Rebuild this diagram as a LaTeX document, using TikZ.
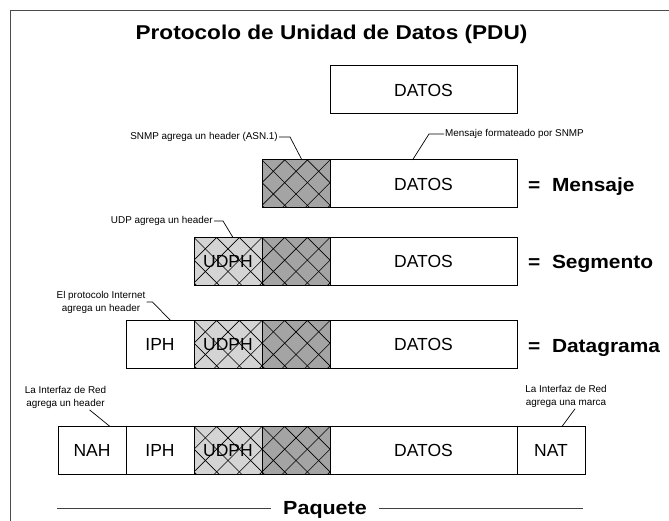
\documentclass[tikz,border=0pt]{standalone}
\usepackage{fontspec}
\setmainfont{Liberation Sans}
\newfontfamily\titlefont[FakeStretch=1.13]{Liberation Sans Bold}
\newfontfamily\eqfont[FakeStretch=1.1]{Liberation Sans Bold}
\usetikzlibrary{positioning}
\definecolor{hdrdark}{HTML}{A4A4A4}
\definecolor{hdrlight}{HTML}{D4D4D4}
\tikzset{
 b/.style
  = {rectangle, draw, line width=1pt, minimum width=68pt, minimum height=48pt,
     inner sep=0pt, outer sep=0pt, font=\fontsize{17.5}{20}\selectfont},
 bw/.style
  = {b, minimum width=187pt},
 h/.style
  = {b, fill=hdrdark},
 hh/.style
  = {b, fill=hdrlight},
 n/.style
  = {inner sep=1pt, align=center, font=\fontsize{9.9}{13}\selectfont},
 eq/.style
  = {anchor=west, inner sep=0pt, text height=13pt, text depth=0pt,
     font=\eqfont\fontsize{19}{22}\selectfont},
 l/.style
  = {draw, line width=0.7pt},
 pl/.style
  = {draw, line width=1pt, black!75},
}
\newcommand{\hatch}[1]{%
  \begin{scope}
    \clip (#1.south west) rectangle (#1.north east);
    \foreach \k in {-3,...,6}
      \draw[line width=0.6pt] ([xshift=\k*22.67pt]#1.north west) -- ++(60,60)
        ([xshift=\k*22.67pt]#1.north west) -- ++(-60,60);
  \end{scope}
  \draw[line width=1pt] (#1.south west) rectangle (#1.north east);}

\begin{document}
\begin{tikzpicture}[x=1pt,y=-1pt,auto]
    \useasboundingbox (0,0) rectangle (669,521);
    \draw[line width=1.5pt, black!70] (10.5,521) -- (10.5,10.5) -- (669,10.5);
    \node[inner sep=0pt, text height=13pt, text depth=0pt,
          font=\titlefont\fontsize{20}{24}\selectfont] (title) at (331.5,33)
          {Protocolo de Unidad de Datos (PDU)};

    % datos solos
    \node[bw] (dat0) at (423.5,90) {DATOS};

    % mensaje
    \node[h, anchor=west] (snmp1) at (262,184) {};
    \node[bw, right=0pt of snmp1] (dat1) {DATOS};
    \node[eq] (msj) at (528,185) {=\ \ Mensaje};

    % segmento
    \node[hh, anchor=west] (udp2) at (194,261.5) {UDPH};
    \node[h, right=0pt of udp2] (snmp2) {};
    \node[bw, right=0pt of snmp2] (dat2) {DATOS};
    \node[eq] (seg) at (528,262) {=\ \ Segmento};

    % datagrama
    \node[b, anchor=west] (ip3) at (126,344.5) {IPH};
    \node[hh, right=0pt of ip3] (udp3) {UDPH};
    \node[h, right=0pt of udp3] (snmp3) {};
    \node[bw, right=0pt of snmp3] (dat3) {DATOS};
    \node[eq] (dgr) at (528,346) {=\ \ Datagrama};

    % paquete
    \node[b, anchor=west] (nah4) at (58,450.5) {NAH};
    \node[b, right=0pt of nah4] (ip4) {IPH};
    \node[hh, right=0pt of ip4] (udp4) {UDPH};
    \node[h, right=0pt of udp4] (snmp4) {};
    \node[bw, right=0pt of snmp4] (dat4) {DATOS};
    \node[b, right=0pt of dat4] (nat4) {NAT};

    \hatch{snmp1} \hatch{udp2} \hatch{snmp2} \hatch{udp3} \hatch{snmp3}
    \hatch{udp4} \hatch{snmp4}

    % notas
    \node[n, anchor=east] (snmpn) at (279,137) {SNMP agrega un header (ASN.1)};
    \node[n, anchor=west] (fmtn) at (444,134) {Mensaje formateado por SNMP};
    \node[n, anchor=east] (udpn) at (214,221) {UDP agrega un header};
    \node[n] (ipn) at (101,302) {El protocolo Internet\\agrega un header};
    \node[n] (nahn) at (65.5,397.5) {La Interfaz de Red\\agrega un header};
    \node[n] (natn) at (566,396.5) {La Interfaz de Red\\agrega una marca};

    \path [l] (snmpn.east) -- ++(11,0) -- ([xshift=6]snmp1.north);
    \path [l] (fmtn.west) -- ++(-15,0) -- ([xshift=-11]dat1.north);
    \path [l] (udpn.east) -- ++(9,0) -- ([xshift=5]udp2.north);
    \path [l] (ipn.east) -- ++(6,0) -- ([xshift=10.5]ip3.north);
    \path [l] ([xshift=24]nahn.south) -- ([xshift=18]nah4.north);
    \path [l] ([xshift=9]natn.south) -- ([xshift=11]nat4.north);

    \coordinate (pqL) at (57,508);
    \coordinate (pqR) at (583,508);
    \node[eq, anchor=center, inner xsep=12pt,
          font=\titlefont\fontsize{19}{22}\selectfont] (paq) at (325,508) {Paquete};
    \path [pl] (pqL) -- (paq);
    \path [pl] (paq) -- (pqR);
  \end{tikzpicture}
\end{document}
